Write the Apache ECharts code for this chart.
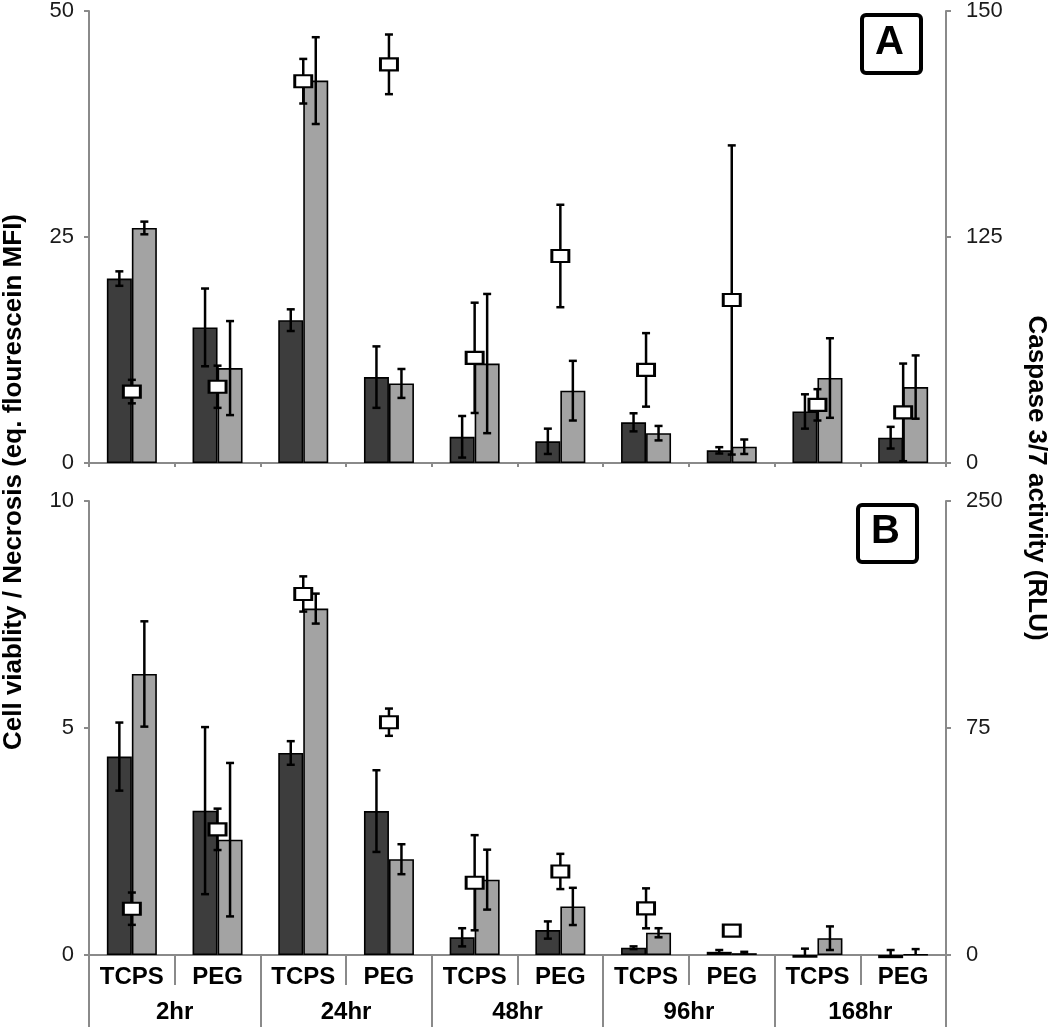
<!DOCTYPE html>
<html>
<head>
<meta charset="utf-8">
<script src="https://cdn.jsdelivr.net/npm/echarts@6/dist/echarts.min.js"></script>
<style>
html,body{margin:0;padding:0;background:#fff;}
#chart{width:1050px;height:1032px;}
</style>
</head>
<body>
<div id="chart"></div>
<script>
// ---- categories ----
const surfaces = ['TCPS','PEG','TCPS','PEG','TCPS','PEG','TCPS','PEG','TCPS','PEG'];
const times = ['2hr','24hr','48hr','96hr','168hr'];

// ---- tick labels ----
const leftTicksA = ['0','25','50'];
const rightTicksA = ['0','125','150'];
const leftTicksB = ['0','5','10'];
const rightTicksB = ['0','75','250'];

// ---- Panel A data ----
const darkA     = [20.4, 15.0, 15.8, 9.5, 2.9, 2.4, 4.5, 1.4, 5.7, 2.8];
const darkAErr  = [0.8, 4.3, 1.2, 3.4, 2.3, 1.4, 1.0, 0.35, 1.9, 1.2];
const lightA    = [26.0, 10.5, 42.3, 8.8, 11.0, 8.0, 3.3, 1.8, 9.4, 8.4];
const lightAErr = [0.7, 5.2, 4.8, 1.6, 7.7, 3.3, 0.8, 0.8, 4.4, 3.5];
const caspA     = [23.7, 25.3, 126.7, 132.3, 34.9, 68.7, 30.9, 54.1, 19.3, 16.8];
const caspAErr  = [3.9, 7.0, 7.4, 9.9, 18.3, 17.0, 12.2, 51.3, 5.2, 16.2];

// ---- Panel B data ----
const darkB     = [4.37, 3.18, 4.45, 3.17, 0.39, 0.55, 0.16, 0.07, -0.06, -0.07];
const darkBErr  = [0.75, 1.84, 0.26, 0.9, 0.2, 0.19, 0.03, 0.04, 0.2, 0.18];
const lightB    = [6.19, 2.54, 7.63, 2.11, 1.66, 1.07, 0.49, 0.04, 0.37, 0.01];
const lightBErr = [1.16, 1.69, 0.33, 0.33, 0.66, 0.41, 0.1, 0.03, 0.26, 0.12];
const caspB     = [25.5, 69.2, 198.8, 128.2, 39.8, 46.0, 25.7, 13.4, null, null];
const caspBErr  = [8.9, 11.4, 9.7, 7.5, 26.2, 9.7, 11.0, 0, 0, 0];

// ---- styles ----
const BAR_W = 25;
const DARK = '#3d3d3d';
const LIGHT = '#a3a3a3';
const AXIS = '#8a8a8a';
const FONT = "'Liberation Sans', Arial, sans-serif";
const NARROW = "'Liberation Sans Narrow', 'Liberation Sans', Arial, sans-serif";

const chart = echarts.init(document.getElementById('chart'), null, {renderer:'canvas'});

function errData(vals, errs){
  return vals.map((v,i)=> v==null ? [i, null, null] : [i, v, errs[i]]);
}
function errSeries(vals, errs, offset, xi, yi, z){
  return {
    type:'custom', xAxisIndex:xi, yAxisIndex:yi, z:z, clip:true, silent:true,
    data: errData(vals, errs),
    encode:{x:0, y:1},
    renderItem:function(params, api){
      const v = api.value(1), e = api.value(2);
      if (v == null || isNaN(v) || !e) return null;
      const top = api.coord([api.value(0), v + e]);
      const bot = api.coord([api.value(0), v - e]);
      const x = top[0] + offset;
      const st = {stroke:'#000', lineWidth:2.5};
      const cap = 4;
      return {type:'group', children:[
        {type:'line', shape:{x1:x, y1:top[1], x2:x, y2:bot[1]}, style:st},
        {type:'line', shape:{x1:x-cap, y1:top[1], x2:x+cap, y2:top[1]}, style:st},
        {type:'line', shape:{x1:x-cap, y1:bot[1], x2:x+cap, y2:bot[1]}, style:st}
      ]};
    }
  };
}
function barSeries(vals, color, xi, yi){
  return {
    type:'bar', xAxisIndex:xi, yAxisIndex:yi, data:vals, barWidth:BAR_W, barGap:'0%',
    clip:false, z:2,
    itemStyle:{color:color, borderColor:'#000', borderWidth:1.6}
  };
}
function squareSeries(vals, xi, yi){
  return {
    type:'scatter', xAxisIndex:xi, yAxisIndex:yi, data:vals, z:6,
    symbol:'rect', symbolSize:[17,12],
    itemStyle:{color:'#fff', borderColor:'#000', borderWidth:2.5, opacity:1}
  };
}
function valueAxis(grid, pos, min, max, interval, labels, margin){
  return {
    type:'value', gridIndex:grid, position:pos, min:min, max:max, interval:interval,
    axisLine:{show:true, lineStyle:{color:AXIS, width:2}},
    axisTick:{show:true, length:5, lineStyle:{color:AXIS, width:2}},
    splitLine:{show:false},
    axisLabel:{
      margin:margin, color:'#1a1a1a', fontSize:22, fontFamily:FONT,
      formatter:function(v){ return labels[Math.round((v-min)/interval)]; }
    }
  };
}

const option = {
  animation:false,
  backgroundColor:'#fff',
  grid:[
    {left:89, right:104, top:11, height:452},
    {left:89, right:104, top:501, height:454}
  ],
  xAxis:[
    { type:'category', gridIndex:0, data:surfaces,
      axisLine:{show:true, lineStyle:{color:AXIS, width:2}},
      axisTick:{show:true, length:4, interval:0, lineStyle:{color:AXIS, width:2}},
      axisLabel:{show:false} },
    { type:'category', gridIndex:1, data:surfaces, position:'bottom',
      axisLine:{show:true, lineStyle:{color:AXIS, width:2}},
      axisTick:{show:true, length:30, interval:0, lineStyle:{color:AXIS, width:2}},
      axisLabel:{interval:0, margin:10, color:'#000', fontSize:24, fontWeight:'bold', fontFamily:FONT} },
    { type:'category', gridIndex:1, data:times, position:'bottom',
      axisLine:{show:false},
      axisTick:{show:true, length:72, interval:0, lineStyle:{color:AXIS, width:2}},
      axisLabel:{interval:0, margin:45, color:'#000', fontSize:24, fontWeight:'bold', fontFamily:FONT} }
  ],
  yAxis:[
    valueAxis(0, 'left', 0, 50, 25, leftTicksA, 15),
    valueAxis(0, 'right', 0, 150, 75, rightTicksA, 20),
    valueAxis(1, 'left', 0, 10, 5, leftTicksB, 15),
    valueAxis(1, 'right', 0, 250, 125, rightTicksB, 20)
  ],
  series:[
    barSeries(darkA, DARK, 0, 0),
    barSeries(lightA, LIGHT, 0, 0),
    errSeries(darkA, darkAErr, -BAR_W/2, 0, 0, 3),
    errSeries(lightA, lightAErr, BAR_W/2, 0, 0, 3),
    errSeries(caspA, caspAErr, 0, 0, 1, 5),
    squareSeries(caspA, 0, 1),

    barSeries(darkB, DARK, 1, 2),
    barSeries(lightB, LIGHT, 1, 2),
    errSeries(darkB, darkBErr, -BAR_W/2, 1, 2, 3),
    errSeries(lightB, lightBErr, BAR_W/2, 1, 2, 3),
    errSeries(caspB, caspBErr, 0, 1, 3, 5),
    squareSeries(caspB, 1, 3)
  ],
  graphic:[
    {type:'rect', left:860, top:13, shape:{width:59, height:58, r:4}, z:10,
     style:{fill:'#fff', stroke:'#000', lineWidth:4}},
    {type:'text', x:889.5, y:43, z:11,
     style:{text:'A', fontSize:40, fontWeight:900, fontFamily:FONT, fill:'#000', align:'center', verticalAlign:'middle'}},
    {type:'rect', left:856, top:503, shape:{width:59, height:57, r:4}, z:10,
     style:{fill:'#fff', stroke:'#000', lineWidth:4}},
    {type:'text', x:885.5, y:532, z:11,
     style:{text:'B', fontSize:40, fontWeight:900, fontFamily:FONT, fill:'#000', align:'center', verticalAlign:'middle'}},
    {type:'text', x:14, y:482, rotation:Math.PI/2, z:11,
     style:{text:'Cell viablity / Necrosis (eq. flourescein MFI)', fontSize:26, fontWeight:'bold', fontFamily:NARROW, fill:'#000', align:'center', verticalAlign:'middle'}},
    {type:'text', x:1036, y:478, rotation:-Math.PI/2, z:11,
     style:{text:'Caspase 3/7 activity (RLU)', fontSize:26, fontWeight:'bold', fontFamily:FONT, fill:'#000', align:'center', verticalAlign:'middle'}}
  ]
};
chart.setOption(option);
</script>
</body>
</html>
